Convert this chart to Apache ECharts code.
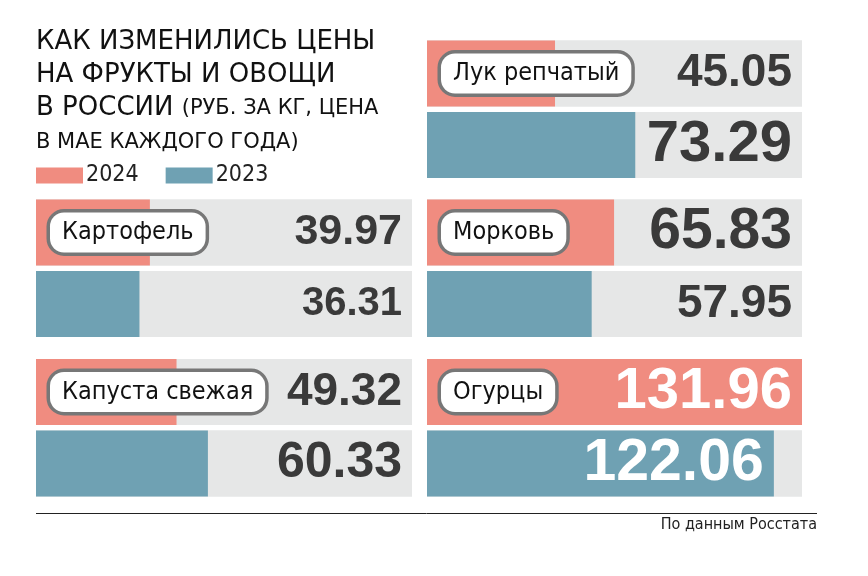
<!DOCTYPE html>
<html><head><meta charset="utf-8">
<script src="https://cdn.jsdelivr.net/npm/echarts@6/dist/echarts.min.js"></script>
<style>html,body{margin:0;padding:0;background:#fff}#c{width:868px;height:576px}</style>
</head><body><div id="c"></div>
<script>
// ---- data ----
const categories = ['Лук репчатый', 'Картофель', 'Морковь', 'Капуста свежая', 'Огурцы'];
const years = ['2024', '2023'];
const prices2024 = [45.05, 39.97, 65.83, 49.32, 131.96];
const prices2023 = [73.29, 36.31, 57.95, 60.33, 122.06];
const titleText = 'КАК ИЗМЕНИЛИСЬ ЦЕНЫ\nНА ФРУКТЫ И ОВОЩИ\nВ РОССИИ {s|(РУБ. ЗА КГ, ЦЕНА}\n{t|В МАЕ КАЖДОГО ГОДА)}';
const sourceText = 'По данным Росстата';

// ---- styles / layout ----
const FONT_C = "'DejaVu Sans Condensed', 'Liberation Sans', sans-serif";
const FONT_T = "'DejaVu Sans', 'Liberation Sans', sans-serif";
const FONT_N = "'Liberation Sans', Arial, sans-serif";
const PINK = '#f08c80', BLUE = '#6fa1b3', BG = '#e6e7e7', DARK = '#3a3a3a';
const panels = [
  {left: 427, top: 37.75, width: 375},
  {left: 36, top: 196.75, width: 376},
  {left: 427, top: 196.75, width: 375},
  {left: 36, top: 356.25, width: 376},
  {left: 427, top: 356.25, width: 375}
];
const size2024 = [46, 43, 57, 46, 58];
const size2023 = [58, 40, 46, 50, 59];
const maxVal = Math.max(...prices2024, ...prices2023);

const grid = [], xAxis = [], yAxis = [], series = [];
panels.forEach((p, i) => {
  grid.push({left: p.left, top: p.top, width: p.width, height: 143});
  xAxis.push({gridIndex: i, type: 'value', min: 0, max: maxVal, show: false});
  yAxis.push({gridIndex: i, type: 'category', data: years, inverse: true, show: false});
  const common = {type: 'bar', xAxisIndex: i, yAxisIndex: i, barWidth: 66, barGap: '-100%',
    showBackground: true, backgroundStyle: {color: BG}, silent: true, animation: false};
  series.push(Object.assign({}, common, {
    name: '2024', itemStyle: {color: PINK},
    data: [{value: prices2024[i], label: {
      show: true, position: 'insideLeft', distance: 14,
      formatter: categories[i], fontFamily: FONT_C, fontSize: 25, lineHeight: 32, color: '#111',
      backgroundColor: '#fff', borderColor: '#777', borderWidth: 3.5, borderRadius: 14,
      padding: [4, 12, 4, 12]
    }}, '-']
  }));
  series.push(Object.assign({}, common, {
    name: '2023', itemStyle: {color: BLUE},
    data: ['-', prices2023[i]]
  }));
  const vals = [prices2024[i], prices2023[i]];
  const sizes = [size2024[i], size2023[i]];
  // invisible carrier bars for the value labels: long bars keep their label inside the bar end,
  // the others get it at the right end of the panel
  series.push(Object.assign({}, common, {
    name: 'values', showBackground: false, itemStyle: {color: 'rgba(0,0,0,0)'}, z: 5,
    data: vals.map((v, k) => {
      const inside = v / maxVal > 0.75;
      return {value: inside ? v : maxVal, label: {
        show: true, position: 'insideRight', distance: 10,
        formatter: v.toFixed(2), fontFamily: FONT_N, fontWeight: 'bold', fontSize: sizes[k],
        color: inside ? '#fff' : DARK
      }};
    })
  }));
});

const chart = echarts.init(document.getElementById('c'), null, {renderer: 'canvas'});
chart.setOption({
  backgroundColor: '#fff',
  animation: false,
  title: [
    {left: 36, top: 26, padding: 0, text: titleText,
     textStyle: {fontFamily: FONT_T, fontSize: 26, fontWeight: 'normal', lineHeight: 33, color: '#111',
       rich: {s: {fontFamily: FONT_T, fontSize: 21, lineHeight: 33, color: '#111'},
              t: {fontFamily: FONT_T, fontSize: 21, lineHeight: 35, color: '#111'}}}},
    {right: 51, top: 517, padding: 0, text: sourceText,
     textStyle: {fontFamily: FONT_C, fontSize: 16, fontWeight: 'normal', color: '#222'}}
  ],
  legend: {left: 36, top: 164, padding: 0, icon: 'rect', itemWidth: 47, itemHeight: 16, itemGap: 27,
    data: years, selectedMode: false,
    textStyle: {fontFamily: FONT_C, fontSize: 23, color: '#222', padding: [0, 0, 0, -2]}},
  graphic: [{type: 'line', shape: {x1: 36, y1: 513.5, x2: 817, y2: 513.5}, style: {stroke: '#222', lineWidth: 1}}],
  grid, xAxis, yAxis, series
});
</script></body></html>
